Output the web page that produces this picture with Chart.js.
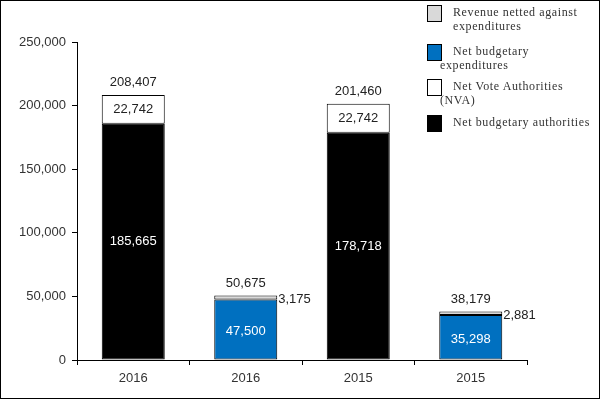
<!DOCTYPE html>
<html>
<head>
<meta charset="utf-8">
<script src="https://cdn.jsdelivr.net/npm/chart.js@4"></script>
<style>
  html, body { margin: 0; padding: 0; background: #fff; }
  #wrap { position: relative; width: 600px; height: 399px; }
  canvas { position: absolute; left: 0; top: 0; }
  .lg { position: absolute; font-family: "Liberation Serif", "Times New Roman", serif; font-size: 12px; color: #333; letter-spacing: 0.6px; line-height: 14px; white-space: nowrap; }
  .box { position: absolute; width: 13px; height: 15px; border: 1px solid #000; box-sizing: content-box; }
</style>
</head>
<body>
<div id="wrap">
  <canvas id="c" width="600" height="399"></canvas>
  <div id="legend"></div>
</div>
<script>
const categories = ["2016", "2016", "2015", "2015"];
const netBudgetaryAuthorities = [185665, 0, 178718, 0];
const netVoteAuthorities = [22742, 0, 22742, 0];
const netBudgetaryExpenditures = [0, 47500, 0, 35298];
const revenueNetted = [0, 3175, 0, 2881];
const totals = [208407, 50675, 201460, 38179];
const yTicks = [0, 50000, 100000, 150000, 200000, 250000];

const legendItems = [
  { color: "#d9d9d9", lines: ["Revenue netted against", "expenditures"], indent2: 453 },
  { color: "#0070c0", lines: ["Net budgetary", "expenditures"], indent2: 440 },
  { color: "#ffffff", lines: ["Net Vote Authorities", "(NVA)"], indent2: 440 },
  { color: "#000000", lines: ["Net budgetary authorities"], indent2: 440 }
];

const fmt = v => v.toLocaleString("en-US");
const FONT = '"Liberation Sans", Arial, sans-serif';

// HTML legend
(function () {
  const lg = document.getElementById("legend");
  const boxTops = [5, 44, 79, 115];
  legendItems.forEach((it, i) => {
    const b = document.createElement("div");
    b.className = "box";
    b.style.left = "427px";
    b.style.top = boxTops[i] + "px";
    b.style.background = it.color;
    lg.appendChild(b);
    const t1 = document.createElement("div");
    t1.className = "lg";
    t1.style.left = "453px";
    t1.style.top = (boxTops[i] + 0) + "px";
    t1.textContent = it.lines[0];
    lg.appendChild(t1);
    if (it.lines[1]) {
      const t2 = document.createElement("div");
      t2.className = "lg";
      t2.style.left = it.indent2 + "px";
      t2.style.top = (boxTops[i] + 14) + "px";
      t2.textContent = it.lines[1];
      lg.appendChild(t2);
    }
  });
})();

const frame = {
  id: "frame",
  afterDraw(chart) {
    const ctx = chart.ctx;
    ctx.save();
    ctx.strokeStyle = "#000";
    ctx.lineWidth = 1;
    ctx.strokeRect(0.5, 0.5, 599, 398);
    ctx.restore();
  }
};

const labels = {
  id: "labels",
  afterDatasetsDraw(chart) {
    const ctx = chart.ctx;
    ctx.save();
    ctx.font = '13px ' + FONT;
    ctx.textBaseline = "middle";
    const metas = chart.data.datasets.map((d, i) => chart.getDatasetMeta(i));
    for (let i = 0; i < categories.length; i++) {
      const black = metas[0].data[i], white = metas[1].data[i], blue = metas[2].data[i], gray = metas[3].data[i];
      ctx.textAlign = "center";
      if (netBudgetaryAuthorities[i]) {
        ctx.fillStyle = "#fff";
        ctx.fillText(fmt(netBudgetaryAuthorities[i]), black.x, (black.y + black.base) / 2);
      }
      if (netVoteAuthorities[i]) {
        ctx.fillStyle = "#222";
        ctx.fillText(fmt(netVoteAuthorities[i]), white.x, (white.y + white.base) / 2);
      }
      if (netBudgetaryExpenditures[i]) {
        ctx.fillStyle = "#fff";
        ctx.fillText(fmt(netBudgetaryExpenditures[i]), blue.x, (blue.y + blue.base) / 2 + 2);
      }
      const topY = chart.scales.y.getPixelForValue(totals[i]);
      ctx.fillStyle = "#222";
      ctx.fillText(fmt(totals[i]), black.x, topY - 12);
      if (revenueNetted[i]) {
        ctx.textAlign = "left";
        ctx.fillText(fmt(revenueNetted[i]), gray.x + gray.width / 2 + 1, topY + 4);
      }
    }
    ctx.restore();
  }
};

const common = { borderColor: "#000", borderWidth: 1, borderSkipped: false, barPercentage: 0.56, categoryPercentage: 1.0 };

new Chart(document.getElementById("c"), {
  type: "bar",
  data: {
    labels: categories,
    datasets: [
      Object.assign({ label: "Net budgetary authorities", data: netBudgetaryAuthorities, backgroundColor: "#000000" }, common),
      Object.assign({ label: "Net Vote Authorities (NVA)", data: netVoteAuthorities, backgroundColor: "#ffffff" }, common),
      Object.assign({ label: "Net budgetary expenditures", data: netBudgetaryExpenditures, backgroundColor: "#0070c0" }, common),
      Object.assign({ label: "Revenue netted against expenditures", data: revenueNetted, backgroundColor: "#d9d9d9" }, common)
    ]
  },
  options: {
    responsive: false,
    animation: false,
    layout: { padding: { left: 0, right: 73, top: 42, bottom: 0 } },
    plugins: { legend: { display: false }, tooltip: { enabled: false } },
    scales: {
      x: {
        stacked: true,
        grid: { offset: true, drawOnChartArea: false, drawTicks: true, tickLength: 5, color: "#000", tickColor: "#000" },
        border: { display: true, color: "#000", width: 1 },
        ticks: { color: "#333", font: { family: FONT, size: 13 }, padding: 6 },
        afterFit(s) { s.height = 39; }
      },
      y: {
        stacked: true,
        min: 0, max: 250000,
        afterBuildTicks(s) { s.ticks = yTicks.map(v => ({ value: v })); },
        grid: { drawOnChartArea: false, drawTicks: true, tickLength: 5, color: "#000", tickColor: "#000" },
        border: { display: true, color: "#000", width: 1 },
        ticks: { color: "#333", font: { family: FONT, size: 13 }, padding: 6, callback: v => fmt(v) },
        afterFit(s) { s.width = 77; }
      }
    }
  },
  plugins: [frame, labels]
});
</script>
</body>
</html>
